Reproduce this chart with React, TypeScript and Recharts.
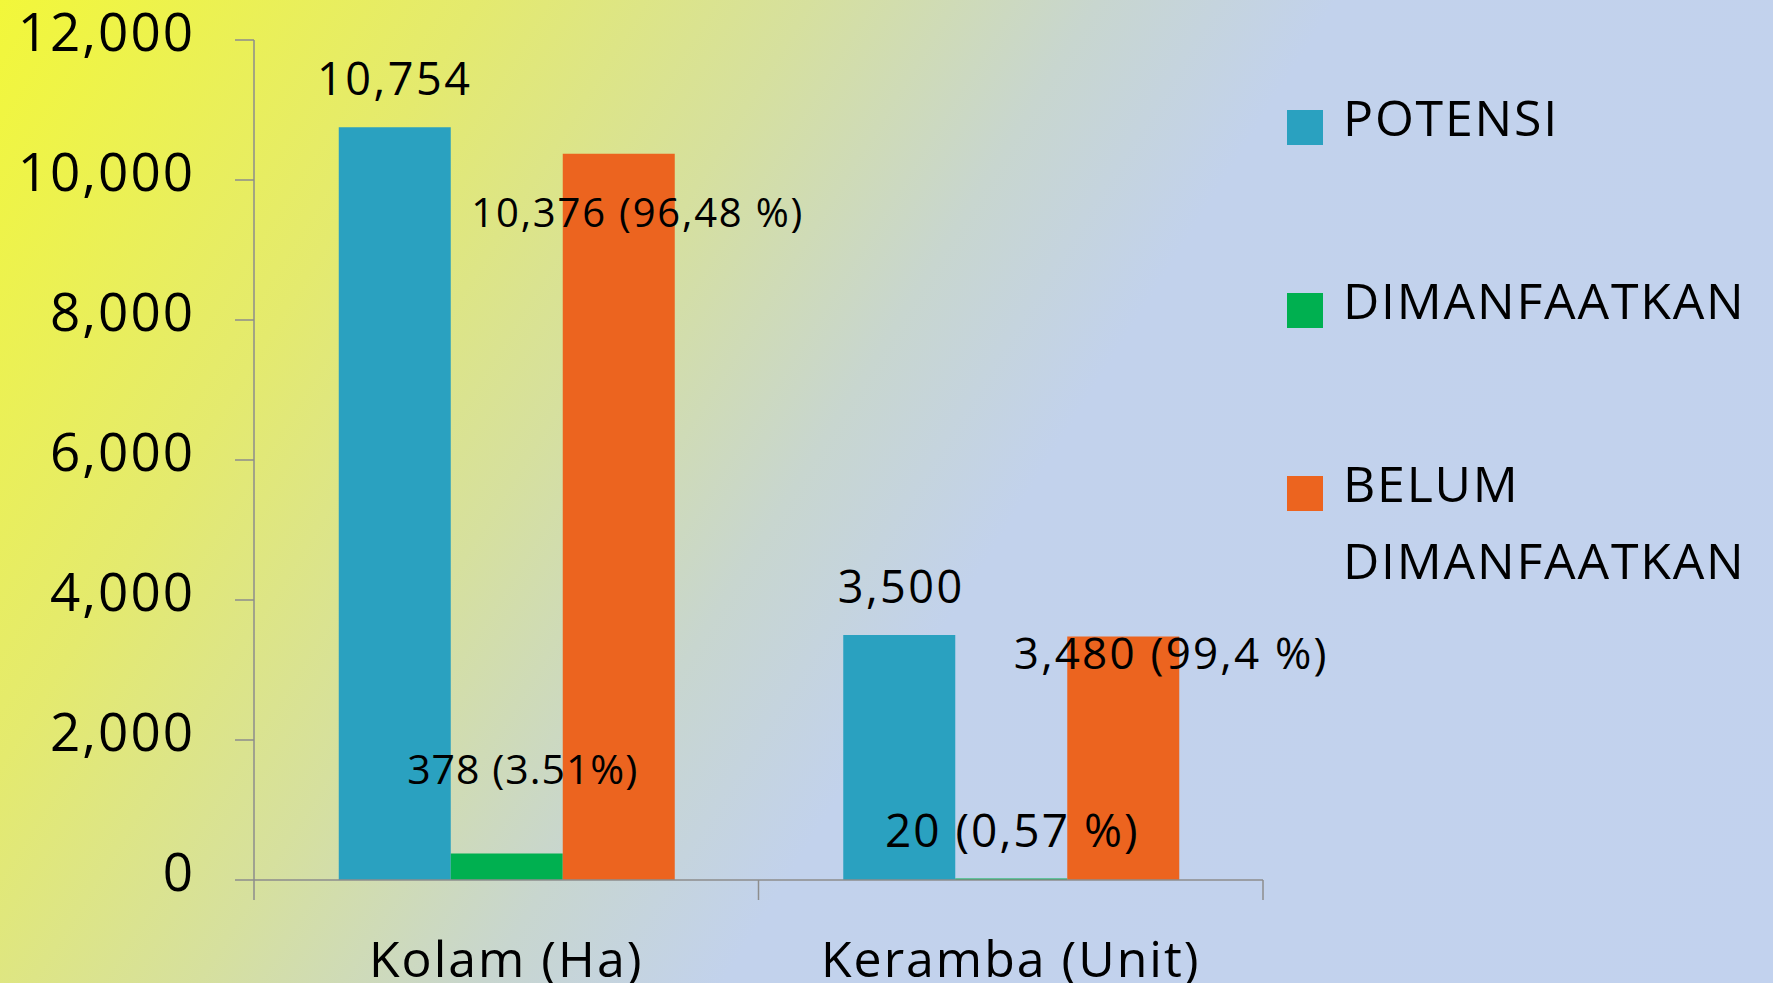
import { BarChart, Bar, XAxis, YAxis, Legend, LabelList } from "recharts";

// data
const categories = ["Kolam (Ha)", "Keramba (Unit)"];
const potensi = [10754, 3500];
const dimanfaatkan = [378, 20];
const belum = [10376, 3480];
const potensiLabels = ["10,754", "3,500"];
const dimanfaatkanLabels = ["378 (3.51%)", "20 (0,57 %)"];
const belumLabels = ["10,376 (96,48 %)", "3,480 (99,4 %)"];
const yTicks = [0, 2000, 4000, 6000, 8000, 10000, 12000];

const data = categories.map((name, i) => ({
  name,
  potensi: potensi[i],
  dimanfaatkan: dimanfaatkan[i],
  belum: belum[i],
}));

const FONT = "'Open Sans', sans-serif";
const AXIS = "#8d8d8d";

// label placement relative to each bar (labels were hand-placed in the original)
const SERIES = [
  {
    key: "potensi",
    name: "POTENSI",
    color: "#2aa1c0",
    labels: potensiLabels,
    dx: [0, 2],
    dy: [-32, -32],
    fontSize: [45, 45],
    spacing: 2.5,
  },
  {
    key: "dimanfaatkan",
    name: "DIMANFAATKAN",
    color: "#00b050",
    labels: dimanfaatkanLabels,
    dx: [16, 1],
    dy: [-70, -32],
    fontSize: [41, 46],
    spacing: [1, 2],
  },
  {
    key: "belum",
    name: "BELUM DIMANFAATKAN",
    color: "#ec641f",
    labels: belumLabels,
    dx: [19, 48],
    dy: [73, 33],
    fontSize: [40, 44],
    spacing: [1.8, 2.2],
  },
];

const YTick = (props: any) => {
  const { x, y, payload } = props;
  return (
    <text
      x={x}
      y={y}
      dy={11}
      textAnchor="end"
      fontSize={53}
      fontFamily={FONT}
      letterSpacing={2}
      fill="#000"
    >
      {Number(payload.value).toLocaleString("en-US")}
    </text>
  );
};

const XTick = (props: any) => {
  const { x, y, payload, index, width } = props;
  const half = payload.offset || width / categories.length / 2;
  return (
    <g>
      <line x1={x - half} x2={x - half} y1={y} y2={y + 20} stroke={AXIS} strokeWidth={1.5} />
      {index === categories.length - 1 && (
        <line x1={x + half} x2={x + half} y1={y} y2={y + 20} stroke={AXIS} strokeWidth={1.5} />
      )}
      <text
        x={x}
        y={y}
        dy={97}
        textAnchor="middle"
        fontSize={50}
        fontFamily={FONT}
        letterSpacing={2}
        fill="#000"
      >
        {payload.value}
      </text>
    </g>
  );
};

const makeLabel = (s: (typeof SERIES)[number]) => (props: any) => {
  const { x, y, width, index } = props;
  const sp = Array.isArray(s.spacing) ? s.spacing[index] : s.spacing;
  return (
    <text
      x={x + width / 2 + s.dx[index]}
      y={y + s.dy[index]}
      textAnchor="middle"
      fontSize={s.fontSize[index]}
      fontFamily={FONT}
      letterSpacing={sp}
      fill="#000"
    >
      {s.labels[index]}
    </text>
  );
};

const CustomLegend = () => (
  <div style={{ fontFamily: FONT }}>
    {SERIES.map((s, i) => (
      <div
        key={s.key}
        style={{
          display: "flex",
          alignItems: "flex-start",
          height: i < SERIES.length - 1 ? 183 : "auto",
        }}
      >
        <div
          style={{
            width: 36,
            height: 35,
            marginTop: 31,
            background: s.color,
            flex: "none",
          }}
        />
        <div
          style={{
            marginLeft: 20,
            width: 430,
            fontSize: 50,
            lineHeight: "77px",
            letterSpacing: 1.8,
            color: "#000",
          }}
        >
          {s.name}
        </div>
      </div>
    ))}
  </div>
);

export default function App() {
  return (
    <div
      style={{
        width: 1773,
        height: 983,
        background:
          "linear-gradient(122deg, #f2f73a 0%, #e4ea6e 20%, #d6e09e 34%, #c8d6cf 46%, #c2d2ec 56%, #c2d2ee 100%)",
        overflow: "hidden",
      }}
    >
      <style>{"body{margin:0}"}</style>
      <BarChart
        width={1773}
        height={983}
        data={data}
        margin={{ top: 40, right: 510, bottom: 0, left: 0 }}
        barCategoryGap="16.8%"
        barGap={0}
      >
        <XAxis
          dataKey="name"
          height={103}
          axisLine={{ stroke: AXIS, strokeWidth: 1.5 }}
          tickLine={false}
          tickSize={0}
          tickMargin={0}
          interval={0}
          tick={<XTick />}
        />
        <YAxis
          width={254}
          domain={[0, 12000]}
          ticks={yTicks}
          interval={0}
          axisLine={{ stroke: AXIS, strokeWidth: 1.5 }}
          tickLine={{ stroke: AXIS, strokeWidth: 1.5 }}
          tickSize={19}
          tickMargin={40}
          tick={<YTick />}
        />
        <Legend
          layout="vertical"
          align="center"
          verticalAlign="middle"
          wrapperStyle={{ left: 1287, top: 79, width: 486 }}
          content={<CustomLegend />}
        />
        {SERIES.map((s) => (
          <Bar
            key={s.key}
            dataKey={s.key}
            name={s.name}
            fill={s.color}
            isAnimationActive={false}
          >
            <LabelList dataKey={s.key} content={makeLabel(s)} />
          </Bar>
        ))}
      </BarChart>
    </div>
  );
}
